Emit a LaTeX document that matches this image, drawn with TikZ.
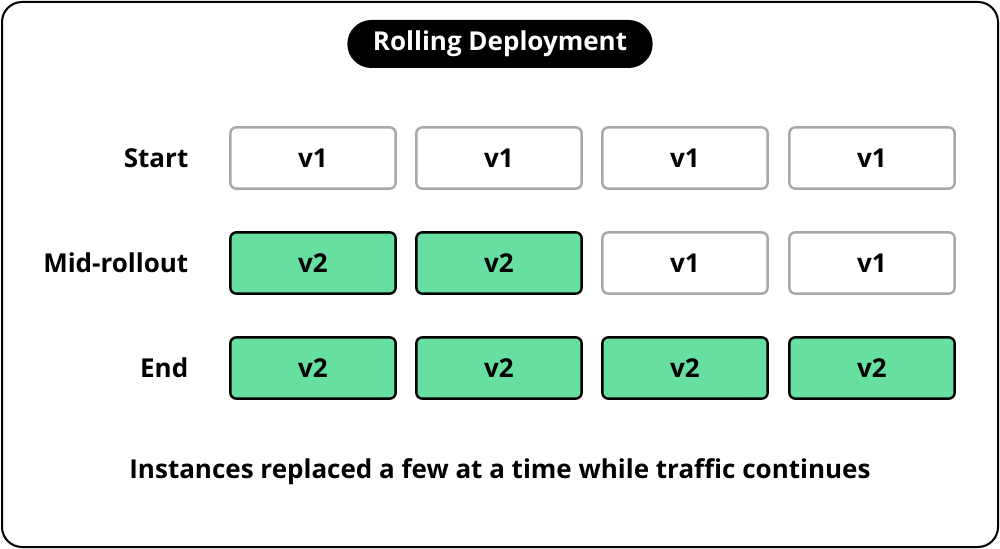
\documentclass[tikz,border=0pt]{standalone}
\usepackage{fontspec}
\setmainfont{Open Sans}
\definecolor{grn}{HTML}{66DFA0}
\definecolor{gry}{HTML}{A8A8A8}
\begin{document}
\begin{tikzpicture}[x=0.75pt,y=-0.75pt,
 box/.style={draw=gry,line width=1.8pt,rounded corners=4.5pt,minimum width=124pt,minimum height=46pt,inner sep=0pt,font=\fontsize{19.5}{22}\selectfont\bfseries},
 new/.style={box,draw=black,fill=grn},
 lab/.style={anchor=east,font=\fontsize{19.5}{22}\selectfont\bfseries}]
\useasboundingbox (0,0) rectangle (1000,549);
\draw[line width=1.5pt,rounded corners=15pt] (2,2) rectangle (998,547);
\node[fill=black,rounded corners=18pt,minimum width=229pt,minimum height=36pt,text=white,font=\fontsize{19.5}{22}\selectfont\bfseries] (t) at (500,44) {Rolling Deployment};
\node[lab] (l1) at (193,158) {Start};
\node[lab] (l2) at (193,263) {Mid-rollout};
\node[lab] (l3) at (193,368) {End};
\foreach \i/\x in {1/313,2/499,3/685,4/872}{
 \node[box] (a\i) at (\x,158) {v1};
}
\node[new] (b1) at (313,263) {v2};
\node[new] (b2) at (499,263) {v2};
\node[box] (b3) at (685,263) {v1};
\node[box] (b4) at (872,263) {v1};
\foreach \i/\x in {1/313,2/499,3/685,4/872}{
 \node[new] (c\i) at (\x,368) {v2};
}
\node[font=\fontsize{19.5}{22}\selectfont\bfseries] (f) at (500,472) {Instances replaced a few at a time while traffic continues};
\end{tikzpicture}
\end{document}
